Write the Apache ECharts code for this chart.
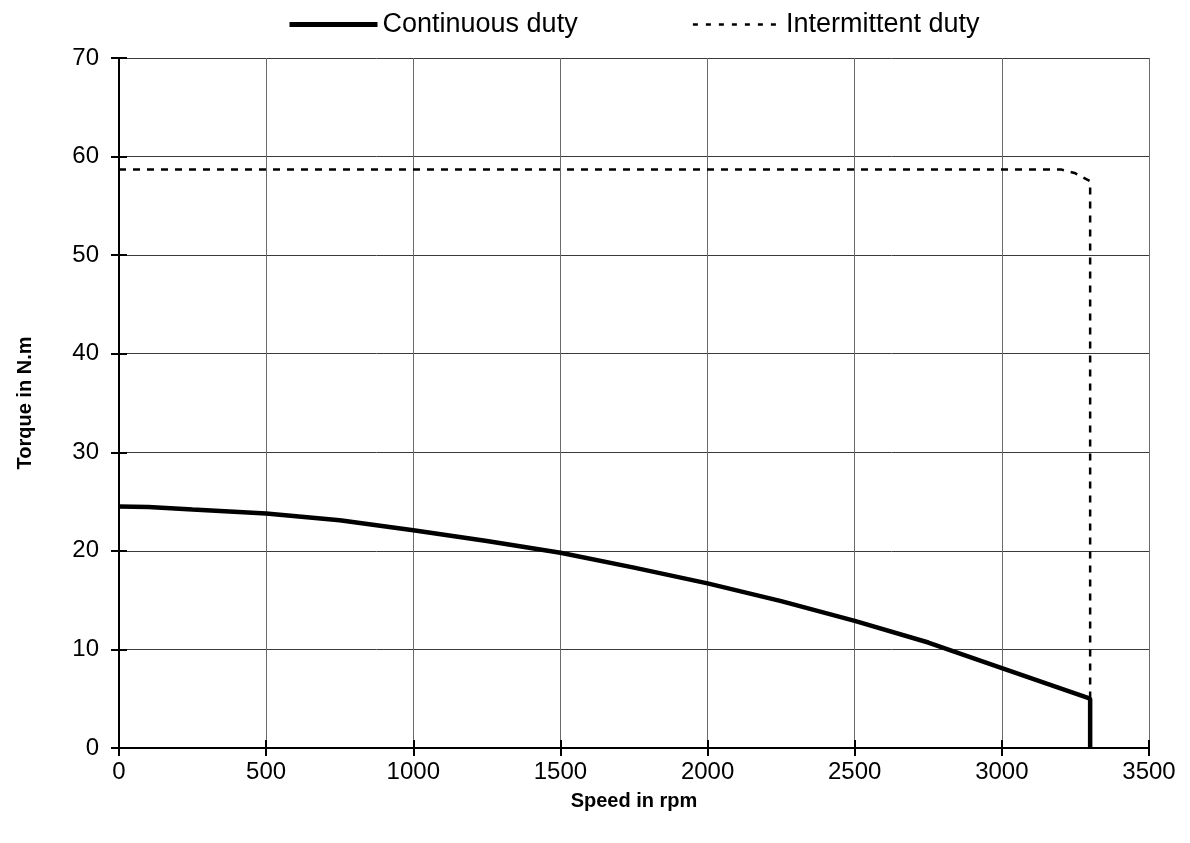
<!DOCTYPE html>
<html><head><meta charset="utf-8">
<script src="https://cdn.jsdelivr.net/npm/echarts@6/dist/echarts.min.js"></script>
<style>html,body{margin:0;padding:0;background:#fff}#c{width:1190px;height:843px}</style>
</head><body><div id="c"></div>
<script>
const continuousSpeed = [0, 100, 250, 500, 750, 1000, 1250, 1500, 1750, 2000, 2250, 2500, 2750, 3000, 3300, 3300];
const continuousTorque = [24.5, 24.45, 24.2, 23.8, 23.1, 22.1, 21.0, 19.8, 18.3, 16.7, 14.9, 12.9, 10.7, 8.1, 5.0, 0];
const intermittentSpeed = [0, 3200, 3250, 3300, 3300];
const intermittentTorque = [58.7, 58.7, 58.3, 57.5, 5.0];
const seriesNames = ['Continuous duty', 'Intermittent duty'];
const xTicks = {min: 0, max: 3500, interval: 500};
const yTicks = {min: 0, max: 70, interval: 10};

const font = 'Liberation Sans, Arial, sans-serif';
const chart = echarts.init(document.getElementById('c'));
const pairs = (xs, ys) => xs.map((x, i) => [x, ys[i]]);
const plain = v => String(v);
chart.setOption({
  animation: false,
  color: ['#000', '#000'],
  grid: {left: 119, right: 41, top: 58, bottom: 95},
  legend: {
    top: 6, left: 282,
    itemWidth: 88, itemHeight: 14, itemGap: 114,
    itemStyle: {opacity: 0},
    textStyle: {fontFamily: font, fontSize: 27, color: '#000'},
    data: [
      {name: seriesNames[0], lineStyle: {color: '#000', width: 5, type: 'solid'}},
      {name: seriesNames[1], lineStyle: {color: '#000', width: 2.5, type: [5, 8]}}
    ]
  },
  xAxis: [{
    type: 'value', min: xTicks.min, max: xTicks.max, interval: xTicks.interval,
    name: 'Speed in rpm', nameLocation: 'middle', nameGap: 43,
    nameTextStyle: {fontFamily: font, fontSize: 20, fontWeight: 'bold', color: '#000'},
    axisLine: {show: true, onZero: false, lineStyle: {color: '#000', width: 2}},
    axisTick: {show: true, inside: false, length: 8, lineStyle: {color: '#000', width: 2}},
    axisLabel: {fontFamily: font, fontSize: 24, color: '#000', margin: 12, formatter: plain},
    splitLine: {show: true, lineStyle: {color: '#6a6a6a', width: 1}}
  }, {
    type: 'value', position: 'bottom', min: xTicks.min, max: xTicks.max, interval: xTicks.interval,
    axisLine: {show: false}, axisLabel: {show: false}, splitLine: {show: false},
    axisTick: {show: true, inside: true, length: 8, lineStyle: {color: '#000', width: 2}}
  }],
  yAxis: [{
    type: 'value', min: yTicks.min, max: yTicks.max, interval: yTicks.interval,
    name: 'Torque in N.m', nameLocation: 'middle', nameGap: 84,
    nameTextStyle: {fontFamily: font, fontSize: 20, fontWeight: 'bold', color: '#000'},
    axisLine: {show: true, onZero: false, lineStyle: {color: '#000', width: 2}},
    axisTick: {show: true, inside: false, length: 8, lineStyle: {color: '#000', width: 2}},
    axisLabel: {fontFamily: font, fontSize: 24, color: '#000', margin: 20, formatter: plain},
    splitLine: {show: true, lineStyle: {color: '#3a3a3a', width: 1}}
  }, {
    type: 'value', position: 'left', min: yTicks.min, max: yTicks.max, interval: yTicks.interval,
    axisLine: {show: false}, axisLabel: {show: false}, splitLine: {show: false},
    axisTick: {show: true, inside: true, length: 8, lineStyle: {color: '#000', width: 2}}
  }],
  series: [{
    name: seriesNames[0], type: 'line', xAxisIndex: 0, yAxisIndex: 0,
    data: pairs(continuousSpeed, continuousTorque),
    symbol: 'none', smooth: false, z: 5,
    itemStyle: {color: '#000'},
    lineStyle: {color: '#000', width: 4.5, type: 'solid'}
  }, {
    name: seriesNames[1], type: 'line', xAxisIndex: 0, yAxisIndex: 0,
    data: pairs(intermittentSpeed, intermittentTorque),
    symbol: 'none', smooth: false, z: 4,
    itemStyle: {color: '#000'},
    lineStyle: {color: '#000', width: 2.5, type: [7, 7]}
  }]
});
</script></body></html>
